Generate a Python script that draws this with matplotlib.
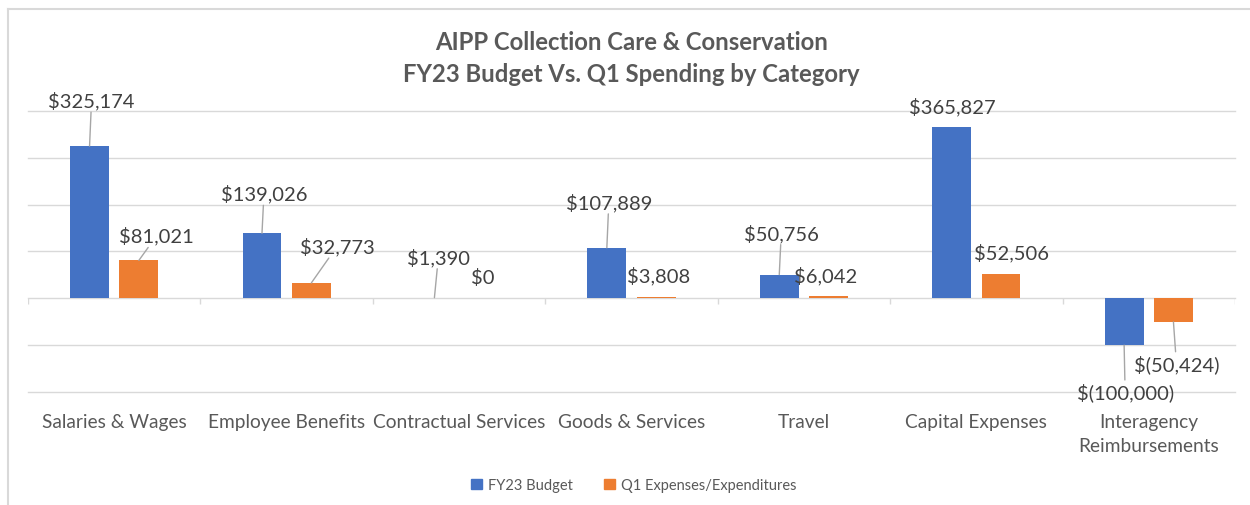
import matplotlib.pyplot as plt
import numpy as np
from matplotlib.lines import Line2D
from matplotlib.patches import Patch

plt.rcParams['font.family'] = ['Lato', 'DejaVu Sans']

# Chart data
categories = ['Salaries & Wages', 'Employee Benefits', 'Contractual Services',
              'Goods & Services', 'Travel', 'Capital Expenses',
              'Interagency\nReimbursements']
budget = [325174, 139026, 1390, 107889, 50756, 365827, -100000]
q1_spend = [81021, 32773, 0, 3808, 6042, 52506, -50424]
series_names = ['FY23 Budget', 'Q1 Expenses/Expenditures']

# Label placement: pixel offsets from the bar end, and whether a leader line is drawn
budget_offsets = [(2, 46), (2, 40), (4, 41), (2, 46), (2, 42), (1, 21), (1, -47)]
budget_leader = [True, True, True, True, True, False, True]
q1_offsets = [(18, 25), (26, 37), (-1, 21), (2, 21), (-3, 20), (10, 22), (3, -42)]
q1_leader = [True, True, False, False, False, False, True]

BLUE = '#4472C4'
ORANGE = '#ED7D31'
GRID = '#d9d9d9'


def money(v):
    if v < 0:
        return '$({:,.0f})'.format(-v)
    return '${:,.0f}'.format(v)


fig = plt.figure(figsize=(12.5, 5.06), dpi=100)
ax = fig.add_axes([28 / 1250, 1 - 393 / 506, 1207 / 1250, 281 / 506])

x = np.arange(len(categories))
w = 0.226
ax.bar(x - 0.143, budget, w, color=BLUE, zorder=3)
ax.bar(x + 0.143, q1_spend, w, color=ORANGE, zorder=3)

ax.set_xlim(-0.5, len(categories) - 0.5)
ax.set_ylim(-200000, 400000)
ax.set_yticks(np.arange(-200000, 400001, 100000))
ax.yaxis.grid(True, color=GRID, lw=1)
for gl in ax.get_ygridlines():
    gl.set_clip_on(False)
ax.set_axisbelow(True)
ax.tick_params(axis='y', length=0, labelleft=False)
for s in ax.spines.values():
    s.set_visible(False)

# category separators on the zero line
ax.vlines(np.arange(-0.5, len(categories)), -13000, 0, color=GRID, lw=1, zorder=2)

ax.set_xticks(x)
ax.set_xticklabels(categories, fontsize=13.8, color='#595959', linespacing=1.5)
ax.tick_params(axis='x', length=0, pad=15)


def add_labels(xs, vals, offsets, leaders):
    for xi, v, off, lead in zip(xs, vals, offsets, leaders):
        arrow = dict(arrowstyle='-', color='#a6a6a6', lw=1, shrinkA=0, shrinkB=0) if lead else None
        ax.annotate(money(v), xy=(xi, v), xytext=off, textcoords='offset pixels',
                    ha='center', va='center', fontsize=14.5, color='#404040',
                    arrowprops=arrow, zorder=4)


add_labels(x - 0.143, budget, budget_offsets, budget_leader)
add_labels(x + 0.143, q1_spend, q1_offsets, q1_leader)

fig.text(0.505, 1 - 42 / 506, 'AIPP Collection Care & Conservation', ha='center', va='center',
         fontsize=17.2, fontweight='bold', color='#595959')
fig.text(0.505, 1 - 74 / 506, 'FY23 Budget Vs. Q1 Spending by Category', ha='center', va='center',
         fontsize=17.2, fontweight='bold', color='#595959')

handles = [Patch(color=BLUE), Patch(color=ORANGE)]
fig.legend(handles, series_names, loc='center', bbox_to_anchor=(0.507, 1 - 486 / 506),
           ncol=2, frameon=False, fontsize=10.5, handlelength=0.7, handleheight=0.7,
           handletextpad=0.4, columnspacing=2.2, labelcolor='#595959')

# chart border (cropped at right and bottom)
fig.add_artist(Line2D([8 / 1250, 8 / 1250], [0, 1 - 10 / 506], transform=fig.transFigure, color=GRID, lw=1.5))
fig.add_artist(Line2D([8 / 1250, 1], [1 - 10 / 506, 1 - 10 / 506], transform=fig.transFigure, color=GRID, lw=1.5))

plt.savefig('out.png', dpi=100)
